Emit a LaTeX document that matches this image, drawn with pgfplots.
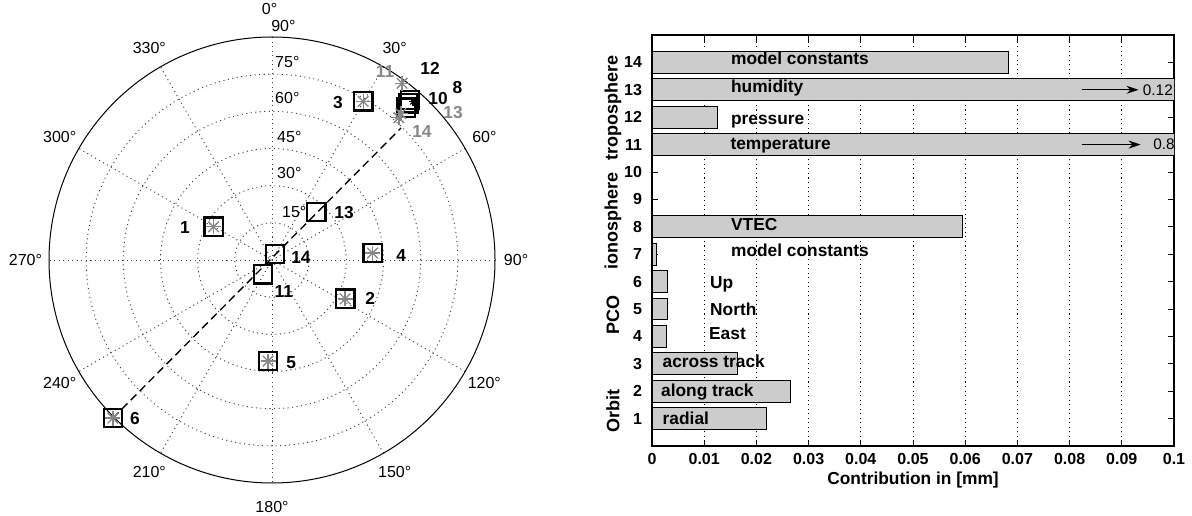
\documentclass[border=0pt]{standalone}
\usepackage{pgfplots}
\pgfplotsset{compat=1.18}
\usepackage{pgfplotstable}
\usepackage{fontspec}
\setmainfont{Liberation Sans}
\usetikzlibrary{arrows.meta}
\definecolor{bargray}{RGB}{204,204,204}
\definecolor{astgray}{RGB}{135,135,135}

% polar (sky) plot, Cartesian data units, outer circle = 90
\pgfplotstableread{
x y
-23.6 13.4
29.5 -15.7
36.8 64.0
40.6 2.8
-1.6 -40.8
-64.2 -63.8
54.1 61.5
55.0 63.2
55.7 64.6
-3.6 -5.7
17.8 19.4
1.2 2.4
}\squares

\pgfplotstableread{
x y
-23.6 13.4
29.5 -15.7
36.8 64.0
40.6 2.8
-1.6 -40.8
-64.2 -63.8
52.5 71.3
52.0 59.0
51.2 57.4
}\stars

\pgfplotstableread{
pos val
1 0.0220
2 0.0266
3 0.0163
4 0.0027
5 0.0029
6 0.0029
7 0.0008
8 0.0594
11 0.8
12 0.0125
13 0.12
14 0.0683
}\bars

\tikzset{
  pgrid/.style={black!75, line width=0.7pt, dash pattern=on 0.8pt off 2.6pt},
  azl/.style={font=\fontsize{12}{14}\selectfont, inner sep=0pt},
  ptl/.style={font=\fontsize{13}{15}\selectfont\bfseries, inner sep=0pt},
  bartxt/.style={font=\fontsize{13}{15}\selectfont\bfseries, inner sep=0pt, anchor=mid west},
}

\begin{document}
\begin{tikzpicture}
\useasboundingbox (0,0) rectangle (894pt,386.25pt);

\begin{axis}[
  at={(36.75pt,24pt)}, anchor=south west,
  scale only axis, width=334.5pt, height=334.5pt,
  xmin=-90, xmax=90, ymin=-90, ymax=90,
  hide axis, clip=false]
  % grid circles
  \draw[pgrid] (axis cs:0,0) circle[radius=15];
  \draw[pgrid] (axis cs:0,0) circle[radius=30];
  \draw[pgrid] (axis cs:0,0) circle[radius=45];
  \draw[pgrid] (axis cs:0,0) circle[radius=60];
  \draw[pgrid] (axis cs:0,0) circle[radius=75];
  % spokes
  \draw[pgrid] (axis cs:0,90) -- (axis cs:0,-90);
  \draw[pgrid] (axis cs:45,77.94) -- (axis cs:-45,-77.94);
  \draw[pgrid] (axis cs:77.94,45) -- (axis cs:-77.94,-45);
  \draw[pgrid] (axis cs:90,0) -- (axis cs:-90,0);
  \draw[pgrid] (axis cs:77.94,-45) -- (axis cs:-77.94,45);
  \draw[pgrid] (axis cs:45,-77.94) -- (axis cs:-45,77.94);
  \draw[black, line width=0.75pt] (axis cs:0,0) circle[radius=90];
  % azimuth labels
  \node[azl] at (axis cs:-1.0,101.3) {0°};
  \node[azl] at (axis cs:49.5,85.7) {30°};
  \node[azl] at (axis cs:85.7,49.5) {60°};
  \node[azl] at (axis cs:98.5,0) {90°};
  \node[azl] at (axis cs:85.7,-49.5) {120°};
  \node[azl] at (axis cs:49.5,-85.7) {150°};
  \node[azl] at (axis cs:0,-99.5) {180°};
  \node[azl] at (axis cs:-49.5,-85.7) {210°};
  \node[azl] at (axis cs:-85.7,-49.5) {240°};
  \node[azl] at (axis cs:-99.5,0) {270°};
  \node[azl] at (axis cs:-85.7,49.5) {300°};
  \node[azl] at (axis cs:-49.5,85.7) {330°};
  % radial labels
  \node[azl, anchor=west] at (axis cs:-0.4,94.6) {90°};
  \node[azl, anchor=west] at (axis cs:1.2,79.9) {75°};
  \node[azl, anchor=west] at (axis cs:1.2,65.4) {60°};
  \node[azl, anchor=west] at (axis cs:2.0,49.6) {45°};
  \node[azl, anchor=west] at (axis cs:2.0,35.1) {30°};
  \node[azl, anchor=west] at (axis cs:4.0,19.4) {15°};
  % dashed line
  \addplot[black, line width=1pt, dash pattern=on 6pt off 3.5pt] coordinates {(-64.2,-63.8) (52.1,53.3)};
  % squares and asterisks
  \addplot[only marks, mark=square, mark size=6.9pt, mark options={line width=1.8pt, black}] table {\squares};
  \addplot[only marks, mark=+, mark size=5.6pt, mark options={line width=1pt, astgray}] table {\stars};
  \addplot[only marks, mark=x, mark size=5.6pt, mark options={line width=1pt, astgray}] table {\stars};
  \addplot[only marks, mark=+, mark size=3pt, mark options={line width=0.8pt, black}] coordinates {(56.9,63.9)};
  \addplot[only marks, mark=x, mark size=3pt, mark options={line width=0.8pt, black}] coordinates {(56.9,63.9)};
  % point labels
  \node[ptl] at (axis cs:-35.1,13.3) {1};
  \node[ptl] at (axis cs:39.6,-15.7) {2};
  \node[ptl] at (axis cs:26.6,63.4) {3};
  \node[ptl] at (axis cs:52.1,2.0) {4};
  \node[ptl] at (axis cs:7.7,-41.6) {5};
  \node[ptl] at (axis cs:-55.3,-63.8) {6};
  \node[ptl] at (axis cs:4.8,-12.9) {11};
  \node[ptl] at (axis cs:29.1,19.0) {13};
  \node[ptl] at (axis cs:11.7,0.8) {14};
  \node[ptl] at (axis cs:63.8,77.5) {12};
  \node[ptl, anchor=west] at (axis cs:63.0,65.0) {10};
  \node[ptl] at (axis cs:74.8,69.4) {8};
  \node[ptl, astgray] at (axis cs:45.6,75.9) {11};
  \node[ptl, astgray] at (axis cs:73.1,59.7) {13};
  \node[ptl, astgray] at (axis cs:60.5,51.7) {14};
\end{axis}

\begin{axis}[
  at={(489pt,51.75pt)}, anchor=south west,
  scale only axis, width=391.5pt, height=308.25pt,
  xmin=0, xmax=0.1, ymin=0, ymax=15,
  xbar, bar width=0.8,
  clip mode=individual,
  xtick={0,0.01,0.02,0.03,0.04,0.05,0.06,0.07,0.08,0.09,0.1},
  xticklabels={0,0.01,0.02,0.03,0.04,0.05,0.06,0.07,0.08,0.09,0.1},
  ytick={1,2,3,4,5,6,7,8,9,10,11,12,13,14},
  yticklabels={1,2,3,4,5,6,7,8,9,10,11,12,13,14},
  tick align=inside, major tick length=4.5pt,
  tick style={black, line width=0.6pt},
  axis line style={black, line width=0.8pt},
  xmajorgrids, grid style={black, line width=0.7pt, dash pattern=on 0.8pt off 2.6pt},
  ticklabel style={font=\fontsize{12}{14}\selectfont\bfseries},
  yticklabel style={xshift=-4pt},
  xticklabel style={yshift=-2pt},
  xlabel={Contribution in [mm]},
  xlabel style={font=\fontsize{13}{15}\selectfont\bfseries, at={(axis description cs:0.5,0)}, anchor=center, yshift=-25.5pt},
]
  \addplot[fill=bargray, draw=black, line width=0.75pt] table[x=val, y=pos] {\bars};
  \node[bartxt] at (axis cs:0.0151,14.05) {model constants};
  \node[bartxt] at (axis cs:0.0151,13.03) {humidity};
  \node[bartxt] at (axis cs:0.0151,11.88) {pressure};
  \node[bartxt] at (axis cs:0.0150,10.95) {temperature};
  \node[bartxt] at (axis cs:0.0151,7.99) {VTEC};
  \node[bartxt] at (axis cs:0.0151,7.04) {model constants};
  \node[bartxt] at (axis cs:0.0111,5.88) {Up};
  \node[bartxt] at (axis cs:0.0111,4.90) {North};
  \node[bartxt] at (axis cs:0.0109,4.03) {East};
  \node[bartxt] at (axis cs:0.0020,2.99) {across track};
  \node[bartxt] at (axis cs:0.0017,1.93) {along track};
  \node[bartxt] at (axis cs:0.0020,0.92) {radial};
  \draw[black, line width=0.75pt, -{Stealth[length=9pt, width=6pt]}] (axis cs:0.0823,13) -- (axis cs:0.0932,13);
  \draw[black, line width=0.75pt, -{Stealth[length=9pt, width=6pt]}] (axis cs:0.0823,11) -- (axis cs:0.0936,11);
  \node[font=\fontsize{11.5}{13}\selectfont, inner sep=0pt, anchor=west] at (axis cs:0.0940,13) {0.12};
  \node[font=\fontsize{11.5}{13}\selectfont, inner sep=0pt, anchor=west] at (axis cs:0.0960,11) {0.8};
\end{axis}

\node[rotate=90, font=\fontsize{13.5}{15}\selectfont\bfseries] at (459.75pt,305.25pt) {troposphere};
\node[rotate=90, font=\fontsize{13.5}{15}\selectfont\bfseries] at (459.75pt,220.5pt) {ionosphere};
\node[rotate=90, font=\fontsize{13.5}{15}\selectfont\bfseries] at (459.75pt,150pt) {PCO};
\node[rotate=90, font=\fontsize{13.5}{15}\selectfont\bfseries] at (459.75pt,78pt) {Orbit};
\end{tikzpicture}
\end{document}
